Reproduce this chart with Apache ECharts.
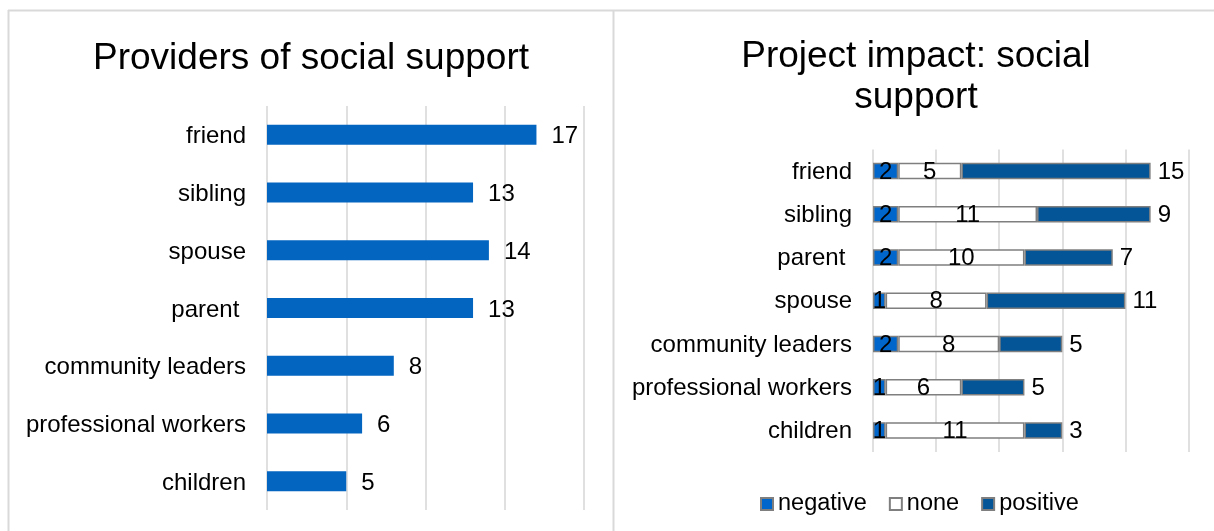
<!DOCTYPE html>
<html>
<head>
<meta charset="utf-8">
<script src="https://cdn.jsdelivr.net/npm/echarts@6/dist/echarts.min.js"></script>
<style>
  html, body { margin: 0; padding: 0; background: #fff; }
  #chart { width: 1214px; height: 531px; }
</style>
</head>
<body>
<div id="chart"></div>
<script>
// Providers of social support (left panel)
const providerCategories = ['friend', 'sibling', 'spouse', 'parent ', 'community leaders', 'professional workers', 'children'];
const providerCounts = [17, 13, 14, 13, 8, 6, 5];

// Project impact on social support (right panel)
const impactCategories = ['friend', 'sibling', 'parent ', 'spouse', 'community leaders', 'professional workers', 'children'];
const impactNegative = [2, 2, 2, 1, 2, 1, 1];
const impactNone = [5, 11, 10, 8, 8, 6, 11];
const impactPositive = [15, 9, 7, 11, 5, 5, 3];

const FONT = 'Liberation Sans, Arial, sans-serif';
const GRID_LINE = { show: true, lineStyle: { color: '#d9d9d9', width: 1.6 } };
const BORDER = '#d9d9d9';
const TEXT_SIZE = 24;

const chart = echarts.init(document.getElementById('chart'), null, { renderer: 'canvas' });

const segLabel = { show: true, position: 'inside', color: '#000', fontSize: TEXT_SIZE, fontFamily: FONT, offset: [0, 1] };
const segBorder = { borderColor: '#7f7f7f', borderWidth: 1.5 };

// category labels sit a touch below the band centre
function catLabel(shift) {
  return {
    fontSize: TEXT_SIZE, color: '#000', margin: 21, fontFamily: FONT,
    formatter: v => '{c|' + v + '}',
    rich: { c: { fontSize: TEXT_SIZE, color: '#000', fontFamily: FONT, padding: [shift * 2, 0, 0, 0] } }
  };
}

chart.setOption({
  animation: false,
  backgroundColor: '#fff',
  textStyle: { fontFamily: FONT },
  title: [
    {
      text: 'Providers of social support',
      left: 311, top: 40, padding: 0, textAlign: 'center',
      textStyle: { fontSize: 37, fontWeight: 'normal', color: '#000', fontFamily: FONT }
    },
    {
      text: 'Project impact: social\nsupport',
      left: 916, top: 36, padding: 0, textAlign: 'center',
      textStyle: { fontSize: 37, fontWeight: 'normal', color: '#000', fontFamily: FONT, lineHeight: 41 }
    }
  ],
  legend: {
    data: ['negative', 'none', 'positive'],
    left: 760, top: 492, padding: 0,
    icon: 'rect', itemWidth: 12, itemHeight: 12, itemGap: 22,
    textStyle: { fontSize: 23.5, color: '#000', fontFamily: FONT, padding: [2, 0, 0, 0] }
  },
  grid: [
    { left: 267, top: 106, width: 317, height: 404 },
    { left: 873, top: 149.5, width: 315.5, height: 302.5 }
  ],
  xAxis: [
    {
      gridIndex: 0, type: 'value', min: 0, max: 20, interval: 5,
      axisLabel: { show: false }, axisLine: { show: false }, axisTick: { show: false },
      splitLine: GRID_LINE
    },
    {
      gridIndex: 1, type: 'value', min: 0, max: 25, interval: 5,
      axisLabel: { show: false }, axisLine: { show: false }, axisTick: { show: false },
      splitLine: GRID_LINE
    }
  ],
  yAxis: [
    {
      gridIndex: 0, type: 'category', data: providerCategories, inverse: true,
      axisLine: { show: false }, axisTick: { show: false },
      axisLabel: catLabel(2)
    },
    {
      gridIndex: 1, type: 'category', data: impactCategories, inverse: true,
      axisLine: { show: false }, axisTick: { show: false },
      axisLabel: catLabel(1)
    }
  ],
  series: [
    {
      name: 'providers', type: 'bar', xAxisIndex: 0, yAxisIndex: 0,
      data: providerCounts, barWidth: 20,
      itemStyle: { color: '#0365c0' },
      label: { show: true, position: 'right', distance: 15, color: '#000', fontSize: TEXT_SIZE, fontFamily: FONT, offset: [0, 2] }
    },
    {
      name: 'negative', type: 'bar', stack: 'impact', xAxisIndex: 1, yAxisIndex: 1,
      data: impactNegative, barWidth: 16.5,
      itemStyle: Object.assign({ color: '#0066cc' }, segBorder),
      label: segLabel
    },
    {
      name: 'none', type: 'bar', stack: 'impact', xAxisIndex: 1, yAxisIndex: 1,
      data: impactNone, barWidth: 16.5,
      itemStyle: Object.assign({ color: '#ffffff' }, segBorder),
      label: segLabel
    },
    {
      name: 'positive', type: 'bar', stack: 'impact', xAxisIndex: 1, yAxisIndex: 1,
      data: impactPositive, barWidth: 16.5,
      itemStyle: Object.assign({ color: '#035597' }, segBorder),
      label: { show: true, position: 'right', distance: 7, color: '#000', fontSize: TEXT_SIZE, fontFamily: FONT, offset: [0, 1] }
    }
  ],
  graphic: [
    // panel frames
    { type: 'line', shape: { x1: 8, y1: 10.5, x2: 1214, y2: 10.5 }, style: { stroke: BORDER, lineWidth: 2 }, silent: true },
    { type: 'line', shape: { x1: 8.5, y1: 10, x2: 8.5, y2: 531 }, style: { stroke: BORDER, lineWidth: 2 }, silent: true },
    { type: 'line', shape: { x1: 613.5, y1: 10, x2: 613.5, y2: 531 }, style: { stroke: BORDER, lineWidth: 2 }, silent: true }
  ]
});
</script>
</body>
</html>
